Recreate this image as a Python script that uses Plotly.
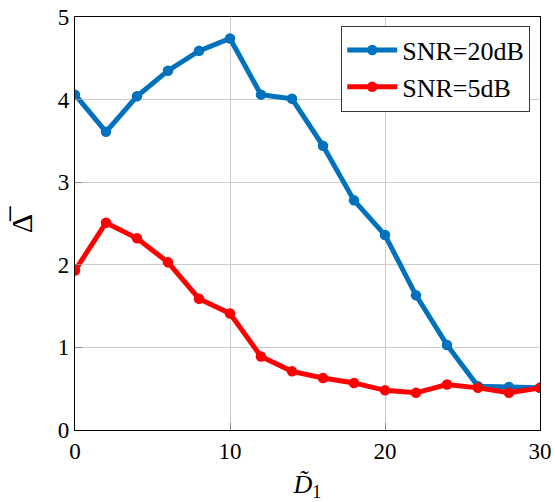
import plotly.graph_objects as go

# Horizontal axis values (D~1) and mean metric for the two SNR settings
d1 = [0, 2, 4, 6, 8, 10, 12, 14, 16, 18, 20, 22, 24, 26, 28, 30]
snr20 = [4.06, 3.61, 4.04, 4.35, 4.59, 4.74, 4.06, 4.01, 3.44, 2.78, 2.36, 1.63, 1.03, 0.53, 0.52, 0.51]
snr5 = [1.93, 2.51, 2.32, 2.03, 1.59, 1.41, 0.89, 0.71, 0.63, 0.57, 0.48, 0.45, 0.55, 0.51, 0.45, 0.51]

series_names = ["SNR=20dB", "SNR=5dB"]
series_colors = ["#0072BD", "#FF0000"]

FONT = "Liberation Serif"

fig = go.Figure()
for name, ys, col in zip(series_names, [snr20, snr5], series_colors):
    fig.add_trace(go.Scatter(
        x=d1, y=ys, name=name, mode="lines+markers",
        line=dict(color=col, width=5),
        marker=dict(color=col, size=10.5),
    ))

axis_common = dict(
    showgrid=True, gridcolor="#cccccc", gridwidth=1,
    showline=True, linecolor="black", linewidth=1.2, mirror=True,
    ticks="inside", ticklen=7, tickcolor="#8a8a8a", tickwidth=1.2,
    zeroline=False, automargin=False,
    tickfont=dict(family=FONT, size=23, color="black"),
)

fig.update_layout(
    width=555, height=502,
    margin=dict(l=75, r=15, t=17, b=72),
    plot_bgcolor="white", paper_bgcolor="white",
    font=dict(family=FONT, color="black"),
    xaxis=dict(range=[0, 30], dtick=10,
               title=dict(text="<i>D̃</i><sub>1</sub>", font=dict(family=FONT, size=26), standoff=14),
               **axis_common),
    yaxis=dict(range=[0, 5], dtick=1,
               title=dict(text="Δ̅", font=dict(family=FONT, size=30), standoff=16),
               **axis_common),
    legend=dict(
        x=0.979, y=0.979, xanchor="right", yanchor="top",
        bgcolor="white", bordercolor="#3a3a3a", borderwidth=1,
        font=dict(family=FONT, size=26, color="black"),
        tracegroupgap=0, itemwidth=50,
    ),
    showlegend=True,
)

fig.write_html("out.html")
